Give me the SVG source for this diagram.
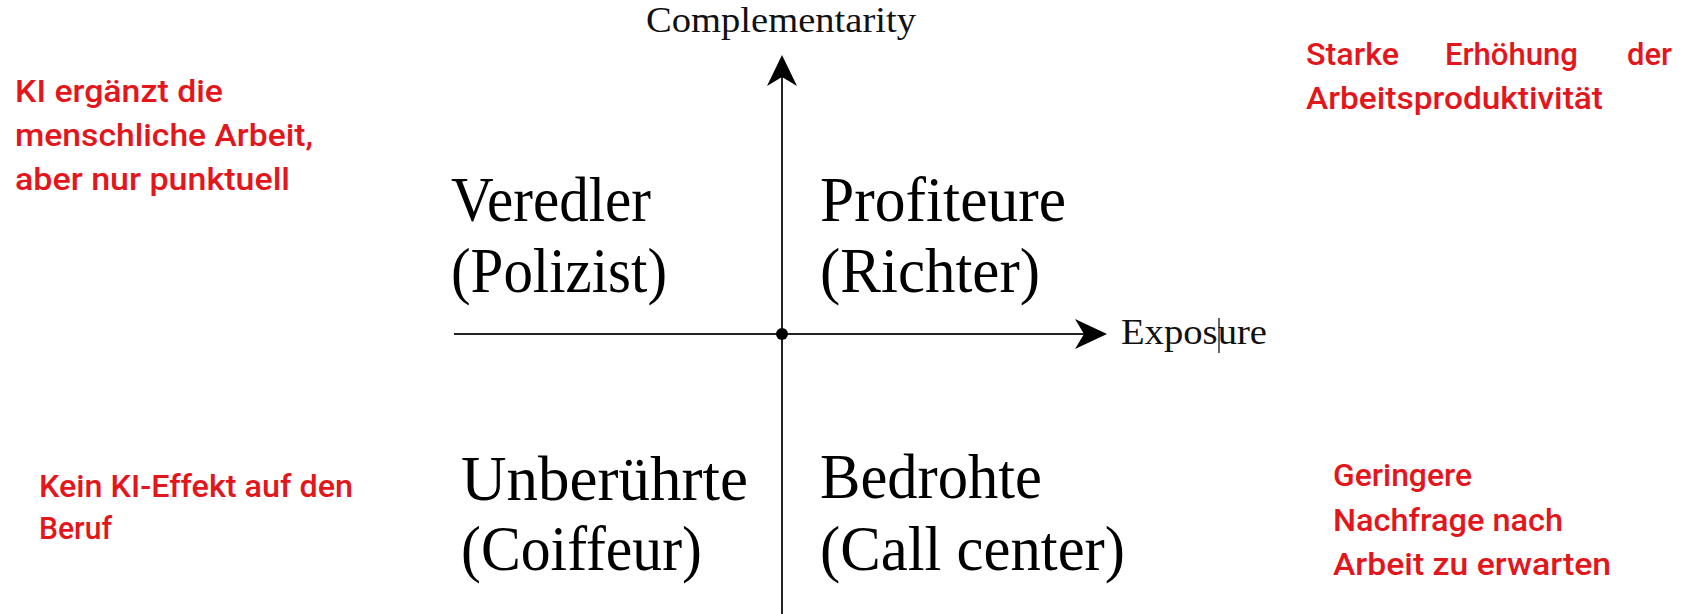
<svg xmlns="http://www.w3.org/2000/svg" width="1688" height="614" viewBox="0 0 1688 614">
<style>
.ax{stroke:#222;stroke-width:2;fill:none}
.axl{font-family:"Liberation Serif",serif;font-size:36px;fill:#111}
.q{font-family:"Liberation Serif",serif;font-size:64px;fill:#000}
.r{font-family:Roboto,"Liberation Sans",sans-serif;font-weight:500;font-size:32px;fill:#e3161c}
</style>
<rect width="1688" height="614" fill="#fff"/>
<g id="connectors">
<line class="ax" x1="782" y1="70" x2="782" y2="614"/>
<line class="ax" x1="454" y1="334" x2="1090" y2="334"/>
<path d="M782,55 L797,86 L782,77 L767,86 Z" fill="#000"/>
<path d="M1107,334 L1075,349 L1084,334 L1075,319 Z" fill="#000"/>
<circle cx="782" cy="334" r="6" fill="#000"/>
</g>
<g id="axis-labels">
<text class="axl" x="646" y="32" textLength="270" lengthAdjust="spacingAndGlyphs">Complementarity</text>
<text class="axl" x="1121" y="344" textLength="146" lengthAdjust="spacingAndGlyphs">Exposure</text>
<line x1="1219" y1="318" x2="1219" y2="353" stroke="#000" stroke-width="1.2"/>
</g>
<g id="veredler">
<text class="q" x="451" y="221" textLength="200" lengthAdjust="spacingAndGlyphs">Veredler</text>
<text class="q" x="451" y="292" textLength="216" lengthAdjust="spacingAndGlyphs">(Polizist)</text>
</g>
<g id="profiteure">
<text class="q" x="820" y="221" textLength="246" lengthAdjust="spacingAndGlyphs">Profiteure</text>
<text class="q" x="820" y="292" textLength="220" lengthAdjust="spacingAndGlyphs">(Richter)</text>
</g>
<g id="unberuehrte">
<text class="q" x="461" y="500" textLength="287" lengthAdjust="spacingAndGlyphs">Unberührte</text>
<text class="q" x="461" y="570" textLength="241" lengthAdjust="spacingAndGlyphs">(Coiffeur)</text>
</g>
<g id="bedrohte">
<text class="q" x="820" y="498" textLength="222" lengthAdjust="spacingAndGlyphs">Bedrohte</text>
<text class="q" x="820" y="570" textLength="305" lengthAdjust="spacingAndGlyphs">(Call center)</text>
</g>
<g id="note-top-left">
<text class="r" x="15" y="102" textLength="208" lengthAdjust="spacingAndGlyphs">KI ergänzt die</text>
<text class="r" x="15" y="146" textLength="298" lengthAdjust="spacingAndGlyphs">menschliche Arbeit,</text>
<text class="r" x="15" y="190" textLength="275" lengthAdjust="spacingAndGlyphs">aber nur punktuell</text>
</g>
<g id="note-top-right">
<text class="r" x="1306" y="65" textLength="93" lengthAdjust="spacingAndGlyphs">Starke</text>
<text class="r" x="1445" y="65" textLength="133" lengthAdjust="spacingAndGlyphs">Erhöhung</text>
<text class="r" x="1627" y="65" textLength="45" lengthAdjust="spacingAndGlyphs">der</text>
<text class="r" x="1306" y="109" textLength="297" lengthAdjust="spacingAndGlyphs">Arbeitsproduktivität</text>
</g>
<g id="note-bottom-left">
<text class="r" x="39" y="497" textLength="314" lengthAdjust="spacingAndGlyphs">Kein KI-Effekt auf den</text>
<text class="r" x="39" y="539" textLength="73" lengthAdjust="spacingAndGlyphs">Beruf</text>
</g>
<g id="note-bottom-right">
<text class="r" x="1333" y="486" textLength="139" lengthAdjust="spacingAndGlyphs">Geringere</text>
<text class="r" x="1333" y="531" textLength="230" lengthAdjust="spacingAndGlyphs">Nachfrage nach</text>
<text class="r" x="1333" y="575" textLength="278" lengthAdjust="spacingAndGlyphs">Arbeit zu erwarten</text>
</g>
</svg>
